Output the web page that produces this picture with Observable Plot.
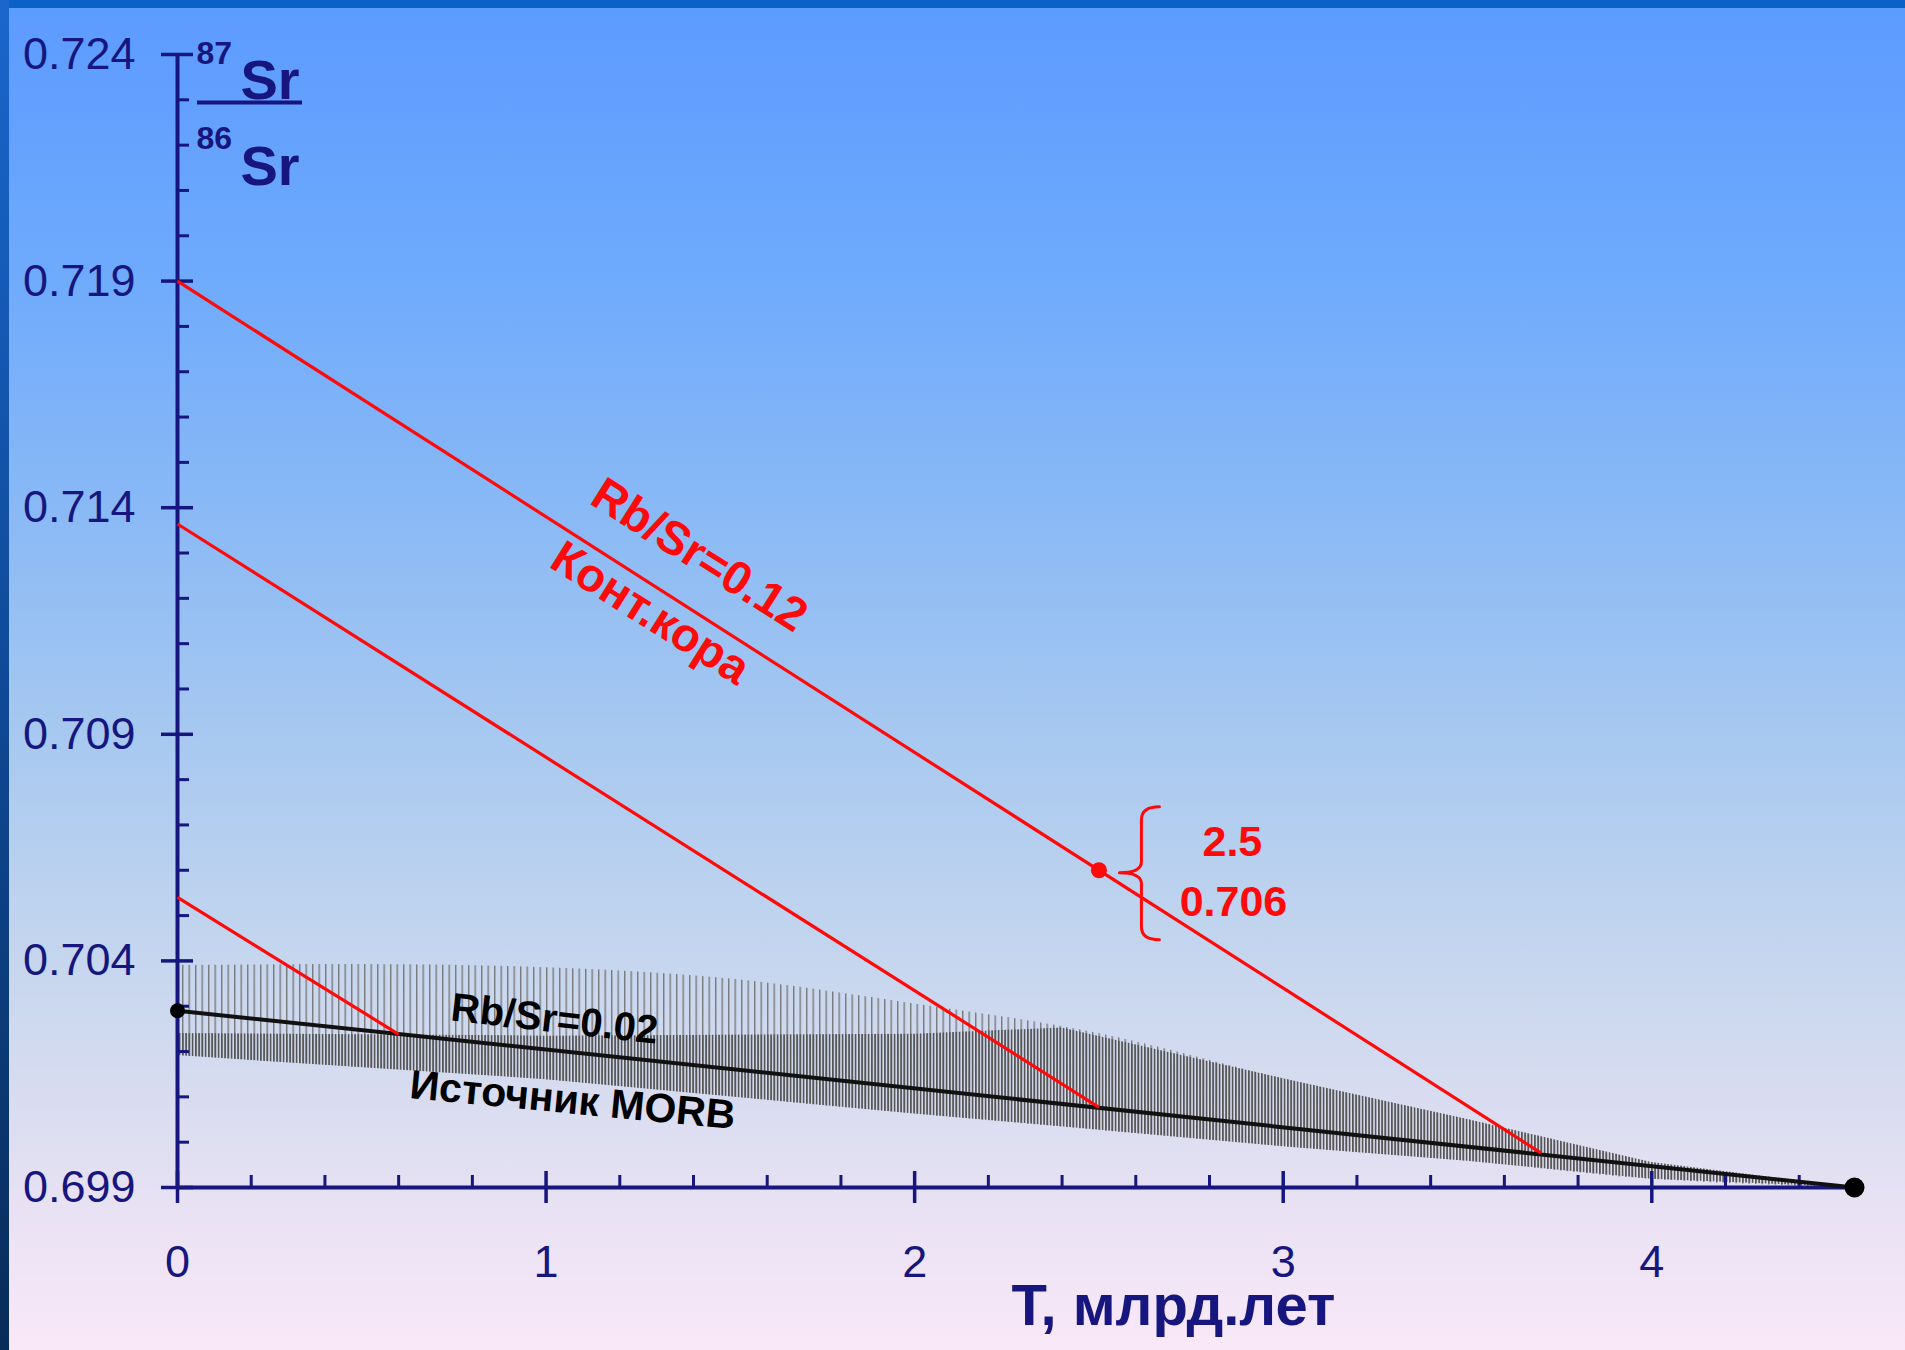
<!DOCTYPE html>
<html><head><meta charset="utf-8">
<script src="https://cdn.jsdelivr.net/npm/d3@7"></script>
<script src="https://cdn.jsdelivr.net/npm/@observablehq/plot@0.6"></script>
<style>
html,body{margin:0;padding:0;width:1905px;height:1350px;overflow:hidden;}
#page{position:relative;width:1905px;height:1350px;
 background:linear-gradient(to bottom,#5d9cff 0%,#5f9dff 4%,#6eaafc 20%,#8bbaf5 39%,#a6c8f0 54%,#c5d6ee 71%,#d8dcf0 81%,#e9e2f4 90%,#f9e8f8 100%);}
#topbar{position:absolute;left:0;top:0;width:1905px;height:8px;background:#0a62c8;}
#leftbar{position:absolute;left:0;top:0;width:9px;height:1350px;background:linear-gradient(to bottom,#1a66cc,#0f4a98 50%,#082c58);}
#chart{position:absolute;left:0;top:0;}
</style></head>
<body><div id="page"><div id="topbar"></div><div id="leftbar"></div><div id="chart"></div></div>
<script>
// ---- data ----
const xMajor = [0, 1, 2, 3, 4];
const xMinor = [0.2,0.4,0.6,0.8,1.2,1.4,1.6,1.8,2.2,2.4,2.6,2.8,3.2,3.4,3.6,3.8,4.2,4.4];
const yMajor = [0.699, 0.704, 0.709, 0.714, 0.719, 0.724];
const yMinor = [0.700,0.701,0.702,0.703,0.705,0.706,0.707,0.708,0.710,0.711,0.712,0.713,
                0.715,0.716,0.717,0.718,0.720,0.721,0.722,0.723];

// MORB-source envelope (hatched band): outer envelope
const bandT     = [0, 0.5, 1, 1.5, 2, 2.5, 3, 3.5, 4, 4.55];
const bandUpper = [0.70390, 0.70392, 0.70385, 0.70360, 0.70305, 0.70240, 0.70140, 0.70050, 0.69955, 0.69900];
const bandLower = [0.70191, 0.70165, 0.70138, 0.70100, 0.70062, 0.70026, 0.69990, 0.69958, 0.69918, 0.69900];
// densely hatched core of the band
const denseT     = [0, 1, 2, 2.4, 3, 3.5, 4, 4.55];
const denseUpper = [0.70240, 0.70234, 0.70238, 0.70252, 0.70140, 0.70050, 0.69955, 0.69900];
const denseLower = [0.70191, 0.70138, 0.70062, 0.70034, 0.69990, 0.69958, 0.69918, 0.69900];

// MORB source evolution line (Rb/Sr = 0.02)
const morbT = [0, 4.55];
const morbR = [0.7029, 0.6990];

// continental crust lines (Rb/Sr = 0.12): present value -> separation point on MORB line
const crustNowT = [0, 0, 0];
const crustNowR = [0.7190, 0.71364, 0.7054];
const crustSepT = [3.7, 2.5, 0.6];
const crustSepR = [0.69976, 0.70077, 0.70238];

// marked sample point
const sampleT = [2.5];
const sampleR = [0.706];

// annotations (text, position in data units)
const crustLabel = ["Rb/Sr=0.12", "Конт.кора"];
const crustLabelT = [1.416, 1.283];
const crustLabelR = [0.71295, 0.71167];
const morbRatioLabel = ["Rb/Sr=0.02"];
const morbRatioT = [1.023];
const morbRatioR = [0.70271];
const morbLabel = ["Источник MORB"];
const morbLabelT = [1.072];
const morbLabelR = [0.70092];
const sampleLabel = ["2.5", "0.706"];
const sampleLabelT = [2.862, 2.865];
const sampleLabelR = [0.70662, 0.70529];
const xTitle = "T, млрд.лет";

// ---- style ----
const navy = "#16167e";
const red = "#ff0a0a";
const font = "'Liberation Sans', Arial, sans-serif";

function braceMark(index, scales) {
  const g = d3.create("svg:g");
  sampleT.forEach((t, i) => {
    const px = scales.x(t), py = scales.y(sampleR[i]);
    const d = `M${px+61},${py-63} Q${px+43},${py-63} ${px+43},${py-50} L${px+43},${py-8} ` +
              `Q${px+43},${py+3} ${px+21},${py+3} Q${px+43},${py+3} ${px+43},${py+14} ` +
              `L${px+43},${py+57} Q${px+43},${py+70} ${px+61},${py+70}`;
    g.append("path").attr("d", d).attr("fill", "none").attr("stroke", red)
      .attr("stroke-width", 3).attr("stroke-linejoin", "round").attr("stroke-linecap", "round");
  });
  return g.node();
}

const plot = Plot.plot({
  width: 1905, height: 1350,
  marginLeft: 177, marginRight: 51, marginTop: 54, marginBottom: 163,
  x: {domain: [0, 4.55], axis: null},
  y: {domain: [0.699, 0.724], axis: null},
  style: {background: "transparent", fontFamily: font, overflow: "visible"},
  marks: [
    // hatched band
    Plot.areaY(bandT, {x: bandT, y1: bandLower, y2: bandUpper, fill: "url(#hatchSparse)", curve: "monotone-x"}),
    Plot.areaY(denseT, {x: denseT, y1: denseLower, y2: denseUpper, fill: "url(#hatchDense)", curve: "linear"}),
    // axes
    Plot.ruleX([0], {x: d => d, y1: () => 0.699, y2: () => 0.724, stroke: navy, strokeWidth: 4}),
    Plot.ruleY([0.699], {y: d => d, x1: () => 0, x2: () => 4.55, stroke: navy, strokeWidth: 4}),
    Plot.ruleY(yMajor, {y: d => d, x1: () => 0, x2: () => 0, insetLeft: -16, insetRight: -16, stroke: navy, strokeWidth: 3.5}),
    Plot.ruleY(yMinor, {y: d => d, x1: () => 0, x2: () => 0, insetLeft: 0, insetRight: -12, stroke: navy, strokeWidth: 3}),
    Plot.ruleX(xMajor, {x: d => d, y1: () => 0.699, y2: () => 0.699, insetTop: 16, insetBottom: 16, stroke: navy, strokeWidth: 3.5}),
    Plot.ruleX(xMinor, {x: d => d, y1: () => 0.699, y2: () => 0.699, insetTop: 0, insetBottom: 12, stroke: navy, strokeWidth: 3}),
    Plot.text(yMajor, {x: () => 0, y: d => d, text: d => d.toFixed(3), textAnchor: "end", dx: -42, fill: navy, fontSize: 45}),
    Plot.text(xMajor, {x: d => d, y: () => 0.699, text: d => String(d), dy: 75, fill: navy, fontSize: 45}),
    // y-axis label 87Sr/86Sr
    Plot.text(["87"], {x: () => 0, y: () => 0.724, text: d => d, textAnchor: "start", dx: 19, dy: -1, fill: navy, fontSize: 32, fontWeight: "bold"}),
    Plot.text(["Sr"], {x: () => 0, y: () => 0.724, text: d => d, textAnchor: "start", lineAnchor: "bottom", dx: 63, dy: 44, fill: navy, fontSize: 56, fontWeight: "bold"}),
    Plot.ruleY([0.724], {y: d => d, x1: () => 0, x2: () => 0, insetLeft: 20, insetRight: -125, dy: 48, stroke: navy, strokeWidth: 4}),
    Plot.text(["86"], {x: () => 0, y: () => 0.724, text: d => d, textAnchor: "start", dx: 19, dy: 84, fill: navy, fontSize: 32, fontWeight: "bold"}),
    Plot.text(["Sr"], {x: () => 0, y: () => 0.724, text: d => d, textAnchor: "start", lineAnchor: "bottom", dx: 63, dy: 130, fill: navy, fontSize: 56, fontWeight: "bold"}),
    // x-axis title
    Plot.text([xTitle], {x: () => 2.702, y: () => 0.699, text: d => d, dy: 119, fill: navy, fontSize: 58, fontWeight: "bold"}),
    // MORB evolution line
    Plot.line(morbT, {x: morbT, y: morbR, stroke: "#111", strokeWidth: 4}),
    // crust lines
    Plot.link(crustNowR, {x1: crustNowT, y1: crustNowR, x2: crustSepT, y2: crustSepR, stroke: red, strokeWidth: 3.2}),
    // dots
    Plot.dot([0], {x: i => morbT[i], y: i => morbR[i], r: 7.5, fill: "#000"}),
    Plot.dot([1], {x: i => morbT[i], y: i => morbR[i], r: 10, fill: "#000"}),
    Plot.dot(sampleT, {x: sampleT, y: sampleR, r: 8, fill: red}),
    braceMark,
    // labels
    Plot.text(crustLabel, {x: crustLabelT, y: crustLabelR, text: d => d, rotate: 32.3, fill: red, fontSize: 47, fontWeight: "bold"}),
    Plot.text(morbRatioLabel, {x: morbRatioT, y: morbRatioR, text: d => d, rotate: 6.5, fill: "#000", fontSize: 40, fontWeight: "bold", ariaLabel: "morbratio"}),
    Plot.text(morbLabel, {x: morbLabelT, y: morbLabelR, text: d => d, rotate: 5.5, fill: "#000", fontSize: 41, fontWeight: "bold"}),
    Plot.text(sampleLabel, {x: sampleLabelT, y: sampleLabelR, text: d => d, fill: red, fontSize: 43, fontWeight: "bold"})
  ]
});

const svgEl = plot.tagName.toLowerCase() === "svg" ? plot : plot.querySelector("svg");
const svg = d3.select(svgEl);
const defs = svg.insert("defs", ":first-child");
const p1 = defs.append("pattern").attr("id", "hatchSparse").attr("patternUnits", "userSpaceOnUse")
  .attr("width", 6.5).attr("height", 10);
p1.append("rect").attr("x", 0).attr("y", 0).attr("width", 1.4).attr("height", 10).attr("fill", "#7a7a7a");
const p2 = defs.append("pattern").attr("id", "hatchDense").attr("patternUnits", "userSpaceOnUse")
  .attr("width", 3.25).attr("height", 10);
p2.append("rect").attr("x", 0).attr("y", 0).attr("width", 1.7).attr("height", 10).attr("fill", "#565656");
svg.selectAll('[aria-label="morbratio"] text').style("letter-spacing", "1.5px");

document.getElementById("chart").appendChild(plot);
</script>
</body></html>
